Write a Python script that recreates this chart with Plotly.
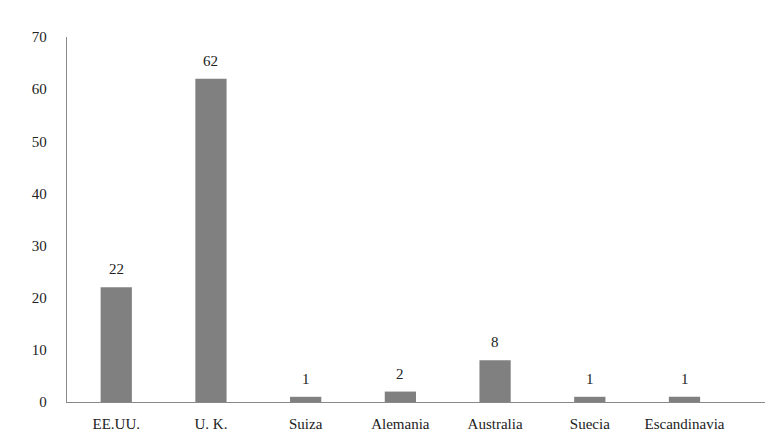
import plotly.graph_objects as go

categories = ["EE.UU.", "U. K.", "Suiza", "Alemania", "Australia", "Suecia", "Escandinavia"]
values = [22, 62, 1, 2, 8, 1, 1]
y_ticks = [0, 10, 20, 30, 40, 50, 60, 70]

font_family = "'Liberation Serif', 'DejaVu Serif', serif"
txt_color = "#222222"

xs = list(range(len(categories)))

fig = go.Figure(go.Bar(
    x=xs,
    y=values,
    width=0.33,
    marker=dict(color="#808080", line=dict(width=0)),
))

for x, v in zip(xs, values):
    fig.add_annotation(
        x=x, y=v, text=str(v), showarrow=False,
        yanchor="bottom", yshift=8,
        font=dict(family=font_family, size=15, color=txt_color),
    )

fig.update_layout(
    width=780, height=441,
    margin=dict(l=59, r=23, t=29, b=47),
    plot_bgcolor="white", paper_bgcolor="white",
    showlegend=False,
    font=dict(family=font_family, size=15, color=txt_color),
)
fig.update_xaxes(
    tickmode="array",
    tickvals=xs,
    ticktext=categories,
    range=[-0.52, 6.85],
    showline=True, linecolor="#888888", linewidth=1.3,
    showgrid=False, zeroline=False, ticks="",
    ticklabelstandoff=8,
    tickfont=dict(family=font_family, size=15, color=txt_color),
)
fig.update_yaxes(
    range=[0, 70],
    tickmode="array", tickvals=y_ticks,
    showline=True, linecolor="#888888", linewidth=1.3,
    showgrid=False, zeroline=False, ticks="",
    ticklabelstandoff=16,
    tickfont=dict(family=font_family, size=15, color=txt_color),
)

fig.write_html("out.html")
